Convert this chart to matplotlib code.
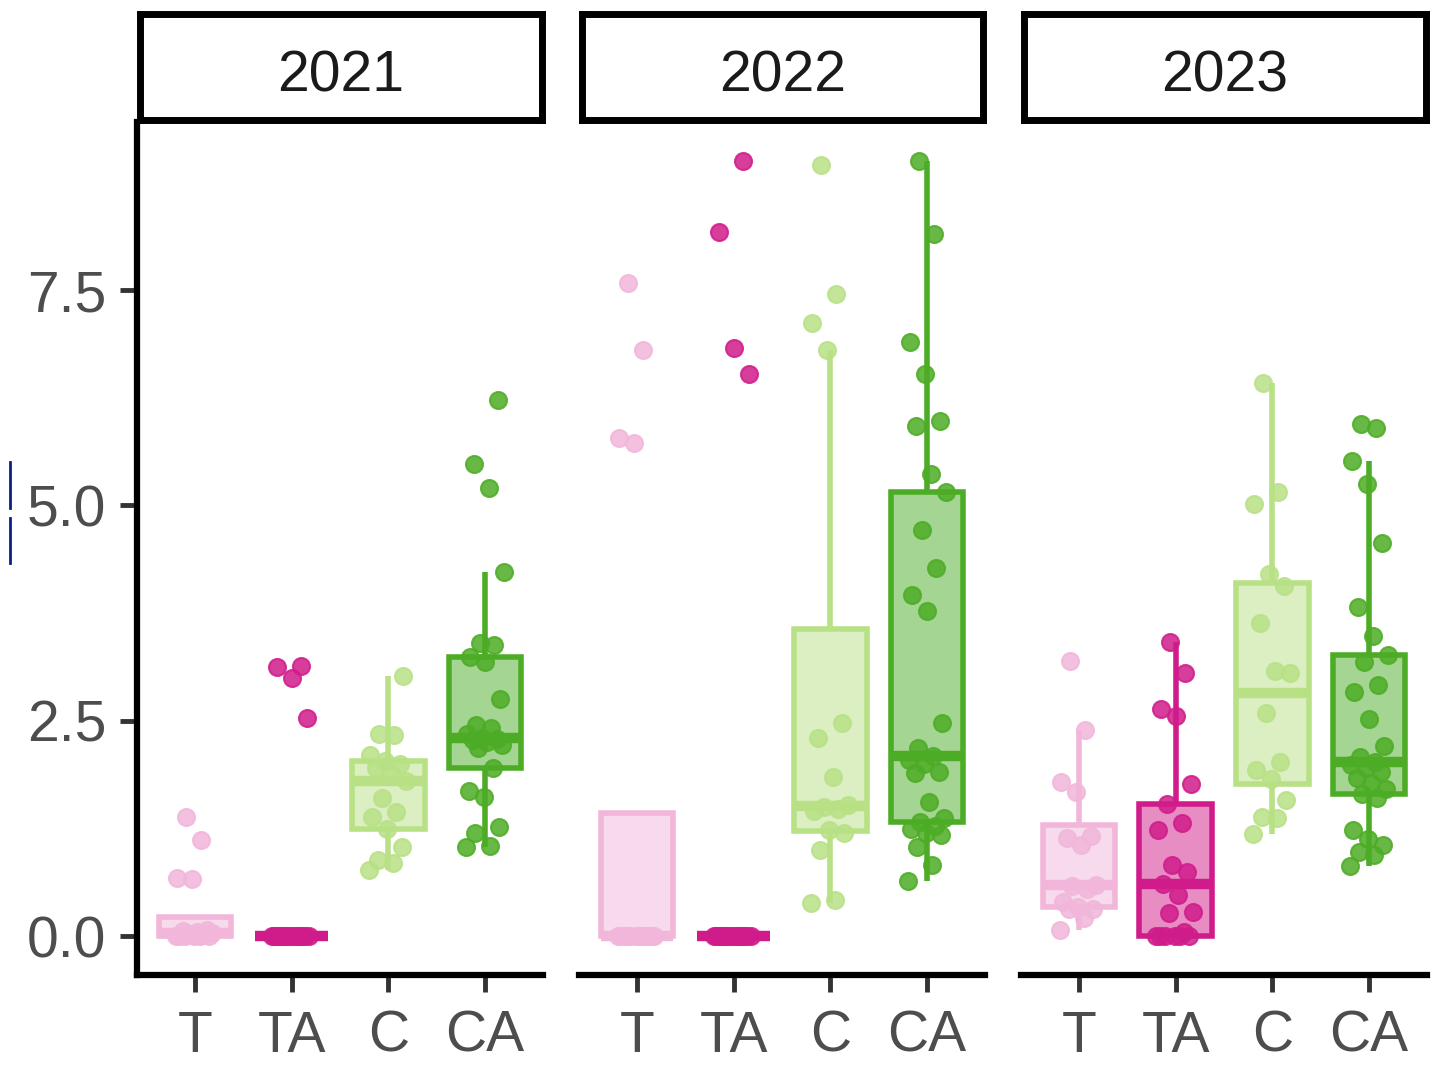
import numpy as np
import matplotlib
matplotlib.use("Agg")
import matplotlib.pyplot as plt
from matplotlib.colors import to_rgba
from matplotlib.lines import Line2D

plt.rcParams["font.family"] = ["Liberation Sans", "DejaVu Sans"]

years = ["2021", "2022", "2023"]
treatments = ["T", "TA", "C", "CA"]
colors = ["#f1b6da", "#d01c8b", "#b8e186", "#4dac26"]
y_ticks = [0.0, 2.5, 5.0, 7.5]

# 2021
t_2021 = [0, 0, 0, 0, 0, 0, 0.02, 0.03, 0.04, 0.05, 0.06, 0.07, 0.66, 0.68, 1.12, 1.38]
ta_2021 = [0, 0, 0, 0, 0, 0, 0, 0, 0, 0, 0, 0, 0, 0, 0, 0, 2.53, 3.0, 3.12, 3.14]
c_2021 = [0.77, 0.85, 0.88, 1.04, 1.24, 1.38, 1.44, 1.6, 1.8, 1.9, 1.95, 2.0, 2.03,
          2.1, 2.34, 2.35, 3.02]
ca_2021 = [1.03, 1.05, 1.2, 1.27, 1.62, 1.68, 1.95, 2.18, 2.22, 2.26, 2.28, 2.29, 2.3,
           2.35, 2.42, 2.45, 2.75, 3.18, 3.24, 3.38, 3.4, 4.23, 5.2, 5.48, 6.22]

# 2022
t_2022 = [0, 0, 0, 0, 0, 0, 0, 0, 0, 0, 0, 0, 5.72, 5.78, 6.8, 7.58]
ta_2022 = [0, 0, 0, 0, 0, 0, 0, 0, 0, 0, 0, 0, 0, 0, 0, 0, 6.53, 6.83, 8.17, 9.0]
c_2022 = [0.38, 0.42, 1.0, 1.2, 1.23, 1.45, 1.48, 1.5, 1.52, 1.85, 2.3, 2.48, 6.8, 7.12,
          7.45, 8.95]
ca_2022 = [0.64, 0.83, 1.04, 1.17, 1.2, 1.25, 1.28, 1.33, 1.37, 1.56, 1.89, 1.91, 2.0,
           2.05, 2.09, 2.19, 2.47, 3.77, 3.96, 4.27, 4.72, 5.15, 5.37, 5.92, 5.98, 6.52,
           6.9, 8.15, 9.0]

# 2023
t_2023 = [0.07, 0.21, 0.32, 0.32, 0.34, 0.4, 0.55, 0.58, 0.6, 1.06, 1.14, 1.16, 1.67,
          1.79, 2.39, 3.19]
ta_2023 = [0, 0, 0, 0, 0, 0, 0.05, 0.27, 0.28, 0.48, 0.61, 0.75, 0.83, 1.23, 1.31, 1.54,
           1.77, 2.56, 2.64, 3.06, 3.41]
c_2023 = [1.19, 1.37, 1.38, 1.58, 1.83, 1.93, 2.02, 2.59, 3.06, 3.08, 3.64, 4.07, 4.2,
          5.02, 5.15, 6.42]
ca_2023 = [0.81, 0.94, 0.98, 1.06, 1.13, 1.23, 1.6, 1.65, 1.71, 1.78, 1.84, 1.91, 1.95,
           1.99, 2.02, 2.08, 2.21, 2.52, 2.83, 2.91, 3.18, 3.26, 3.48, 3.82, 4.56, 5.25,
           5.52, 5.9, 5.94]

by_year = {
    "2021": [t_2021, ta_2021, c_2021, ca_2021],
    "2022": [t_2022, ta_2022, c_2022, ca_2022],
    "2023": [t_2023, ta_2023, c_2023, ca_2023],
}


def jitter(n, width=0.2):
    # evenly spread horizontal offsets (golden-ratio sequence)
    return ((np.arange(n) * 0.6180339887) % 1.0 - 0.5) * 2 * width


W, H = 1434, 1065
fig = plt.figure(figsize=(W / 100, H / 100), dpi=100)

panel_left = [137, 579, 1021]
panel_w = 406
ax_top, ax_bottom = 122, 975
ymin, ymax = -0.45, 9.45

for k, year in enumerate(years):
    x0 = panel_left[k]
    ax = fig.add_axes([x0 / W, 1 - ax_bottom / H, panel_w / W, (ax_bottom - ax_top) / H])
    groups = by_year[year]
    pos = np.arange(1, len(treatments) + 1)

    bp = ax.boxplot(groups, positions=pos, widths=0.75, whis=1.5, patch_artist=True,
                    showcaps=False, showfliers=False, manage_ticks=False)
    for i, c in enumerate(colors):
        box = bp["boxes"][i]
        box.set_facecolor(to_rgba(c, 0.5))
        box.set_edgecolor(c)
        box.set_linewidth(4)
        box.set_zorder(2)
        for w in bp["whiskers"][2 * i:2 * i + 2]:
            w.set_color(c)
            w.set_linewidth(4)
            w.set_solid_capstyle("butt")
        med = bp["medians"][i]
        med.set_color(c)
        med.set_linewidth(7.5)
        med.set_solid_capstyle("butt")
        med.set_zorder(3)

    # raw observations on top of the boxes
    for i, (vals, c) in enumerate(zip(groups, colors)):
        vals = np.asarray(vals, dtype=float)
        ax.scatter(pos[i] + jitter(len(vals)), vals, s=150, facecolor=c, edgecolor=c,
                   linewidth=1.5, alpha=0.85, zorder=4)

    ax.set_xlim(0.4, 4.6)
    ax.set_ylim(ymin, ymax)
    ax.set_xticks(pos)
    ax.set_xticklabels(treatments)
    ax.tick_params(axis="x", length=12, width=3.5, color="#333333", labelsize=41,
                   labelcolor="#4d4d4d", pad=13)
    for side in ["top", "right"]:
        ax.spines[side].set_visible(False)
    ax.spines["bottom"].set_linewidth(4.5)
    ax.spines["bottom"].set_color("black")
    if k == 0:
        ax.spines["left"].set_linewidth(4.5)
        ax.spines["left"].set_color("black")
        ax.set_yticks(y_ticks)
        ax.set_yticklabels([f"{v:.1f}" for v in y_ticks])
        ax.tick_params(axis="y", length=12, width=3.5, color="#333333", labelsize=41,
                       labelcolor="#4d4d4d", pad=10)
    else:
        ax.spines["left"].set_visible(False)
        ax.set_yticks([])

    # facet strip
    sx = fig.add_axes([(x0 + 2.5) / W, 1 - 119.5 / H, 402 / W, 106 / H])
    sx.set_xticks([])
    sx.set_yticks([])
    for sp in sx.spines.values():
        sp.set_linewidth(5)
        sp.set_color("black")
    sx.text(0.5, 0.26, year, ha="center", va="baseline", fontsize=41, color="#1a1a1a",
            transform=sx.transAxes)

# small navy marks at the left margin
for y_a, y_b in [(462, 508), (518, 563)]:
    fig.add_artist(Line2D([10 / W, 10 / W], [1 - y_a / H, 1 - y_b / H], color="#0b1f86",
                          linewidth=2, transform=fig.transFigure))

fig.savefig("out.png", dpi=100)
